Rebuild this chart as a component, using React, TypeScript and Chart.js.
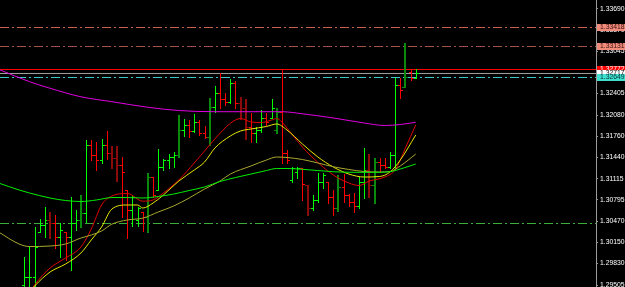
import React, { useEffect, useRef } from 'react';
import { Chart, registerables } from 'chart.js';
Chart.register(...registerables);

// ---------- DATA ----------
// OHLC bars, one per bar index 0..76
const OPEN = [
  1.29505, 1.29626, 1.29626, 1.30308, 1.30414, 1.30490, 1.30444, 1.30232, 1.30308, 1.30232,
  1.30444, 1.30490, 1.30596, 1.31626, 1.31474, 1.31398, 1.31626, 1.31505, 1.31429, 1.31323,
  1.30944, 1.30641, 1.30490, 1.30611, 1.30535, 1.31141, 1.30944, 1.31292, 1.31398, 1.31444,
  1.31474, 1.31853, 1.31929, 1.31838, 1.31974, 1.31807, 1.31747, 1.32199, 1.32413, 1.32322,
  1.32277, 1.32565, 1.32262, 1.32184, 1.31898, 1.31807, 1.31853, 1.32035, 1.32035, 1.31853,
  1.32124, 1.31505, 1.31096, 1.31217, 1.31277, 1.31020, 1.30671, 1.30793, 1.31065, 1.31065,
  1.30838, 1.30671, 1.30990, 1.30868, 1.30762, 1.30702, 1.31065, 1.31247, 1.31020, 1.31368,
  1.31323, 1.31292, 1.31474, 1.32535, 1.32504, 1.32731, 1.32641,
];
const HIGH = [
  1.29929, 1.30096, 1.30384, 1.30505, 1.30687, 1.30611, 1.30565, 1.30444, 1.30308, 1.30838,
  1.30641, 1.30868, 1.31701, 1.31701, 1.31671, 1.31717, 1.31838, 1.31611, 1.31611, 1.31444,
  1.30944, 1.30868, 1.30687, 1.30611, 1.31202, 1.31141, 1.31565, 1.31414, 1.31489, 1.31520,
  1.32078, 1.32020, 1.32004, 1.32093, 1.32004, 1.31913, 1.32338, 1.32519, 1.32716, 1.32413,
  1.32625, 1.32595, 1.32353, 1.32322, 1.32108, 1.31898, 1.32154, 1.32108, 1.32322, 1.32184,
  1.32777, 1.31550, 1.31292, 1.31292, 1.31277, 1.31020, 1.30868, 1.31202, 1.31202, 1.31065,
  1.30944, 1.31171, 1.31186, 1.30883, 1.30899, 1.31141, 1.31580, 1.31489, 1.31429, 1.31429,
  1.31429, 1.31520, 1.32641, 1.32641, 1.33171, 1.32762, 1.32777,
];
const LOW = [
  1.29354, 1.29399, 1.29429, 1.30308, 1.30232, 1.30217, 1.30066, 1.29929, 1.29884, 1.29732,
  1.30338, 1.30384, 1.30459, 1.31398, 1.31247, 1.31353, 1.31414, 1.31277, 1.31080, 1.30535,
  1.30217, 1.30399, 1.30399, 1.30323, 1.30308, 1.30838, 1.30944, 1.31247, 1.31277, 1.31292,
  1.31444, 1.31762, 1.31747, 1.31823, 1.31777, 1.31732, 1.31626, 1.32124, 1.32184, 1.32232,
  1.32262, 1.32184, 1.32020, 1.31717, 1.31671, 1.31671, 1.31823, 1.31929, 1.32035, 1.31807,
  1.31353, 1.31353, 1.31065, 1.31126, 1.30793, 1.30565, 1.30641, 1.30762, 1.30974, 1.30747,
  1.30565, 1.30626, 1.30762, 1.30702, 1.30611, 1.30671, 1.30823, 1.30838, 1.30747, 1.31217,
  1.31277, 1.31277, 1.31277, 1.32338, 1.32504, 1.32610, 1.32641,
];
const CLOSE = [
  1.29626, 1.29626, 1.30081, 1.30414, 1.30490, 1.30444, 1.30232, 1.30338, 1.30232, 1.30444,
  1.30490, 1.30596, 1.31626, 1.31474, 1.31398, 1.31626, 1.31505, 1.31429, 1.31323, 1.31217,
  1.30641, 1.30838, 1.30671, 1.30535, 1.31141, 1.30868, 1.31292, 1.31398, 1.31444, 1.31474,
  1.31853, 1.31929, 1.31838, 1.31974, 1.31807, 1.31747, 1.32199, 1.32413, 1.32322, 1.32277,
  1.32565, 1.32262, 1.32184, 1.31898, 1.31807, 1.31853, 1.32035, 1.31974, 1.32184, 1.32124,
  1.31505, 1.31398, 1.31277, 1.31277, 1.31035, 1.30671, 1.30793, 1.31065, 1.31171, 1.30838,
  1.30671, 1.30990, 1.30868, 1.30762, 1.30702, 1.31065, 1.31247, 1.31020, 1.31368, 1.31323,
  1.31292, 1.31474, 1.32535, 1.32459, 1.32656, 1.32641, 1.32716,
];
// bar kind: g = up, r = down, G = up (dark), R = down (dark)
const KIND = [
  'g','g','g','g','g','R','r','g','r','g',
  'g','G','g','r','r','g','r','R','R','r',
  'r','g','g','r','G','r','g','g','g','g',
  'G','g','r','g','r','r','G','g','r','r',
  'g','r','R','R','r','g','g','r','g','G',
  'r','r','g','g','r','R','g','g','g','r',
  'r','G','r','r','r','g','g','R','G','r',
  'r','g','g','r','G','r','g',
];

// Moving averages: bar index -> value
const MA_SLOW_X = [-5, 1, 5, 11, 17, 24, 30, 37, 44, 50, 54, 60, 66, 70, 73, 76];
const MA_SLOW_Y = [1.32772, 1.32585, 1.32485, 1.32356, 1.32282, 1.32197, 1.32148, 1.32130, 1.32130, 1.32130, 1.32098, 1.32035, 1.31959, 1.31921, 1.31936, 1.31970];

const MA_FAST_X = [1, 2, 5, 8, 11, 13, 15, 17, 20, 23, 25, 27, 30, 33, 35, 37, 40, 42, 44, 46, 48, 49, 50, 51, 54, 57, 60, 63, 65, 67, 70, 72, 73, 74, 76];
const MA_FAST_Y = [1.29384, 1.29505, 1.29763, 1.29914, 1.30081, 1.30353, 1.30717, 1.30853, 1.30891, 1.30775, 1.30793, 1.30899, 1.31096, 1.31353, 1.31535, 1.31717, 1.31954, 1.32027, 1.31974, 1.31966, 1.32004, 1.32027, 1.31974, 1.31883, 1.31595, 1.31361, 1.31171, 1.31050, 1.31012, 1.31080, 1.31141, 1.31247, 1.31398, 1.31580, 1.31929];

const MA_MID_X = [1, 2, 5, 8, 11, 13, 15, 17, 20, 22, 23, 25, 27, 30, 33, 35, 37, 40, 42, 44, 47, 49, 51, 54, 57, 60, 63, 66, 69, 71, 73, 76];
const MA_MID_Y = [1.29399, 1.29490, 1.29702, 1.29823, 1.29990, 1.30187, 1.30384, 1.30656, 1.30717, 1.30717, 1.30671, 1.30747, 1.30868, 1.31080, 1.31247, 1.31368, 1.31580, 1.31762, 1.31838, 1.31868, 1.31906, 1.31944, 1.31853, 1.31641, 1.31444, 1.31292, 1.31186, 1.31141, 1.31149, 1.31217, 1.31398, 1.31777];

const MA_OLIVE_X = [-5, -1, 1, 5, 8, 11, 13, 15, 17, 20, 23, 26, 29, 32, 35, 38, 40, 44, 47, 49, 51, 54, 57, 60, 63, 66, 69, 71, 73, 76];
const MA_OLIVE_Y = [1.30308, 1.30126, 1.30088, 1.30096, 1.30126, 1.30217, 1.30263, 1.30323, 1.30427, 1.30490, 1.30518, 1.30611, 1.30702, 1.30823, 1.30959, 1.31080, 1.31186, 1.31308, 1.31398, 1.31444, 1.31436, 1.31406, 1.31353, 1.31297, 1.31255, 1.31224, 1.31217, 1.31224, 1.31308, 1.31489];

const MA_GREEN_X = [-5, -1, 1, 5, 8, 11, 14, 17, 20, 23, 26, 29, 32, 35, 38, 41, 44, 47, 49, 51, 54, 57, 60, 64, 68, 71, 73, 76];
const MA_GREEN_Y = [1.31050, 1.30944, 1.30899, 1.30823, 1.30785, 1.30770, 1.30793, 1.30830, 1.30830, 1.30823, 1.30846, 1.30883, 1.30936, 1.30990, 1.31073, 1.31133, 1.31186, 1.31239, 1.31270, 1.31270, 1.31258, 1.31239, 1.31221, 1.31212, 1.31212, 1.31221, 1.31262, 1.31338];

// Horizontal price levels
const LEVEL_PRICES = [1.33418, 1.33131, 1.32772, 1.32717, 1.32649, 1.30444];
const LEVEL_STYLES = ['dashdot', 'dashdot', 'solid', 'solid', 'dashdot', 'dashdot'];
const LEVEL_COLORS = ['#c8604f', '#a5524a', '#ff0000', '#9c9c9c', '#3cc8c8', '#3cae3c'];

// Price tags on the axis
const TAG_PRICES = [1.33418, 1.33131, 1.32772, 1.32717, 1.32649];
const TAG_BG = ['#f08a7a', '#f08a7a', '#ff0000', '#ffffff', '#40e0d0'];
const TAG_FG = ['#3a1010', '#3a1010', '#ffffff', '#000000', '#003030'];

// Axis tick labels
const Y_TICKS = [1.33690, 1.33370, 1.33045, 1.32720, 1.32405, 1.32080, 1.31760, 1.31440, 1.31115, 1.30795, 1.30470, 1.30150, 1.29830, 1.29505];
const Y_MIN = 1.29475;
const Y_MAX = 1.33822;
const X_MIN = -4.72;
const X_MAX = 111.0;

const COLORS: Record<string, string> = { g: '#00ff00', r: '#ff0000', G: '#0a8a0a', R: '#8b0a0a' };
const FONT = "'Liberation Sans', Arial, sans-serif";
const FONT_SIZE = 6.8;

const ohlcPlugin = {
  id: 'ohlc',
  beforeDatasetsDraw(chart: any) {
    const { ctx, chartArea, scales } = chart;
    const x = scales.x, y = scales.y;
    ctx.save();
    ctx.beginPath();
    ctx.rect(chartArea.left, chartArea.top, chartArea.right - chartArea.left, chartArea.bottom - chartArea.top);
    ctx.clip();
    LEVEL_PRICES.forEach((p, i) => {
      const py = Math.round(y.getPixelForValue(p)) + 0.5;
      ctx.strokeStyle = LEVEL_COLORS[i];
      ctx.lineWidth = 1;
      ctx.setLineDash(LEVEL_STYLES[i] === 'dashdot' ? [9, 3, 2, 3] : []);
      ctx.beginPath();
      ctx.moveTo(chartArea.left, py);
      ctx.lineTo(chartArea.right, py);
      ctx.stroke();
    });
    ctx.setLineDash([]);
    for (let i = 0; i < HIGH.length; i++) {
      const px = Math.round(x.getPixelForValue(i));
      const yh = Math.round(y.getPixelForValue(HIGH[i]));
      const yl = Math.round(y.getPixelForValue(LOW[i]));
      const yo = Math.round(y.getPixelForValue(OPEN[i]));
      const yc = Math.round(y.getPixelForValue(CLOSE[i]));
      const k = KIND[i];
      const w = k === 'G' || k === 'R' ? 2 : 1;
      ctx.fillStyle = COLORS[k];
      ctx.fillRect(px - (w - 1), yh, w, Math.max(1, yl - yh + 1));
      ctx.fillRect(px - (w - 1) - 2, yo, 2, 1);
      ctx.fillRect(px + 1, yc, 2, 1);
    }
    ctx.restore();
  },
};

const tagPlugin = {
  id: 'tags',
  afterDraw(chart: any) {
    const { ctx, chartArea, scales } = chart;
    const y = scales.y;
    ctx.save();
    ctx.font = `${FONT_SIZE}px ${FONT}`;
    ctx.textBaseline = 'middle';
    ctx.textAlign = 'left';
    TAG_PRICES.forEach((p, i) => {
      const py = Math.round(y.getPixelForValue(p));
      ctx.fillStyle = TAG_BG[i];
      ctx.fillRect(chartArea.right + 1, py - 3, 28, 7);
      ctx.fillStyle = TAG_FG[i];
      ctx.fillText(p.toFixed(5), chartArea.right + 4, py + 0.5);
    });
    ctx.restore();
  },
};

export default function App() {
  const ref = useRef<HTMLCanvasElement>(null);
  useEffect(() => {
    document.body.style.margin = '0';
    document.body.style.background = '#000';
    const mk = (xs: number[], ys: number[]) => xs.map((v, i) => ({ x: v, y: ys[i] }));
    const line = (label: string, xs: number[], ys: number[], color: string) => ({
      type: 'line' as const,
      label,
      data: mk(xs, ys),
      borderColor: color,
      borderWidth: 1,
      pointRadius: 0,
      cubicInterpolationMode: 'monotone' as const,
      fill: false,
    });
    const chart = new Chart(ref.current!, {
      type: 'line',
      data: {
        datasets: [
          line('MA green', MA_GREEN_X, MA_GREEN_Y, '#00f000'),
          line('MA olive', MA_OLIVE_X, MA_OLIVE_Y, '#a8a830'),
          line('MA yellow', MA_MID_X, MA_MID_Y, '#e8e800'),
          line('MA red', MA_FAST_X, MA_FAST_Y, '#e00000'),
          line('MA magenta', MA_SLOW_X, MA_SLOW_Y, '#e000e0'),
        ],
      },
      options: {
        animation: false,
        responsive: false,
        devicePixelRatio: 1,
        layout: { padding: 0 },
        plugins: { legend: { display: false }, tooltip: { enabled: false } },
        scales: {
          x: { type: 'linear', min: X_MIN, max: X_MAX, display: false },
          y: {
            type: 'linear',
            position: 'right',
            min: Y_MIN,
            max: Y_MAX,
            afterBuildTicks: (s: any) => {
              s.ticks = Y_TICKS.map((v) => ({ value: v }));
            },
            afterFit: (s: any) => {
              s.width = 29;
              s.paddingTop = 0;
              s.paddingBottom = 0;
            },
            ticks: {
              color: '#ffffff',
              font: { family: FONT, size: FONT_SIZE },
              padding: 2,
              autoSkip: false,
              callback: (v: any) => Number(v).toFixed(5),
            },
            grid: { drawOnChartArea: false, drawTicks: true, tickLength: 2, color: '#9a9a9a' },
            border: { display: true, color: '#9a9a9a' },
          },
        },
      },
      plugins: [ohlcPlugin, tagPlugin],
    });
    return () => chart.destroy();
  }, []);
  return (
    <div style={{ width: 625, height: 287, background: '#000' }}>
      <canvas ref={ref} width={625} height={287} style={{ display: 'block' }} />
    </div>
  );
}
